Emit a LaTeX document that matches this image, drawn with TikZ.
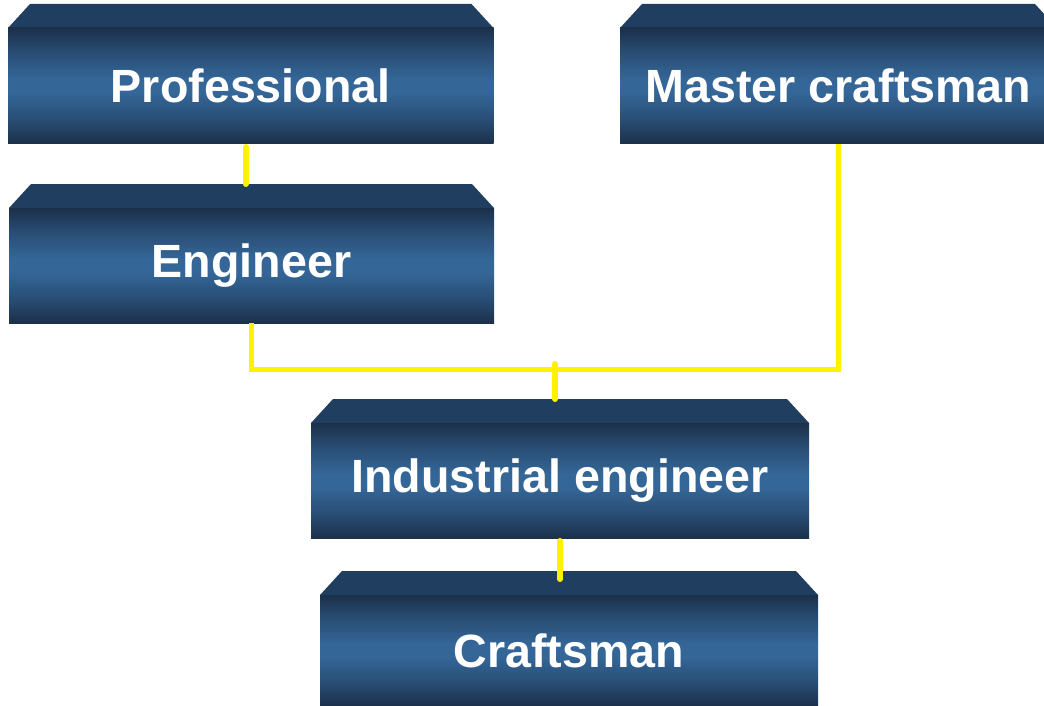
\documentclass[tikz,border=0pt]{standalone}
\usepackage{fontspec}
\setmainfont{Liberation Sans}
\definecolor{bevelblue}{RGB}{32,62,95}
\definecolor{darkblue}{RGB}{27,48,74}
\definecolor{midblue}{RGB}{40,76,114}
\definecolor{lightblue}{RGB}{52,102,151}
\pgfdeclareverticalshading{boxshade}{100bp}{color(0bp)=(darkblue); color(25bp)=(darkblue);
  color(35bp)=(midblue); color(47bp)=(lightblue); color(53bp)=(lightblue);
  color(65bp)=(midblue); color(75bp)=(darkblue); color(100bp)=(darkblue)}
\tikzset{
  box/.style={shading=boxshade, text=white, font=\bfseries\fontsize{46.6}{56}\selectfont,
    inner sep=0, outer sep=0},
  bevel/.style={fill=bevelblue},
  link/.style={yellow, line width=6, line cap=round},
  bus/.style={yellow, line width=5},
}
% name, left, right, top, bottom, text
\newcommand{\bevelbox}[6]{%
  \fill[bevel] (#2,#4) -- (#2+22,#4-24) -- (#3-22,#4-24) -- (#3,#4) -- cycle;
  \node[box, minimum width=#3-#2, minimum height=#5-#4] (#1) at ({(#2+#3)/2},{(#4+#5)/2}) {#6};
  \coordinate (#1-top) at ({(#2+#3)/2},#4-24);
}
\begin{document}
\begin{tikzpicture}[x=1pt, y=-1pt]
    \useasboundingbox (0,0) rectangle (1044,706);
    \clip (0,0) rectangle (1044,706);
    % boxes
    \bevelbox{prof}{8}{493.5}{28}{144}{Professional}
    \bevelbox{master}{620}{1057}{28}{144}{Master craftsman}
    \bevelbox{eng}{9}{494}{208}{323}{Engineer}
    \bevelbox{ind}{311}{809}{423}{538}{Industrial engineer}
    \bevelbox{craft}{320}{818}{595}{706}{Craftsman}
    % connectors
    \coordinate (bus) at (555,369.5);
    \draw[link, shorten <=3] ([xshift=-5]prof.south) -- ([xshift=-5]prof.south |- eng-top);
    \draw[bus] (eng.south) |- (bus) -| (master.south);
    \draw[link, shorten <=-5.5] (bus) -- (bus |- ind-top);
    \draw[link, shorten <=3, shorten >=-8] (ind.south) -- (ind.south |- craft-top);
\end{tikzpicture}
\end{document}
